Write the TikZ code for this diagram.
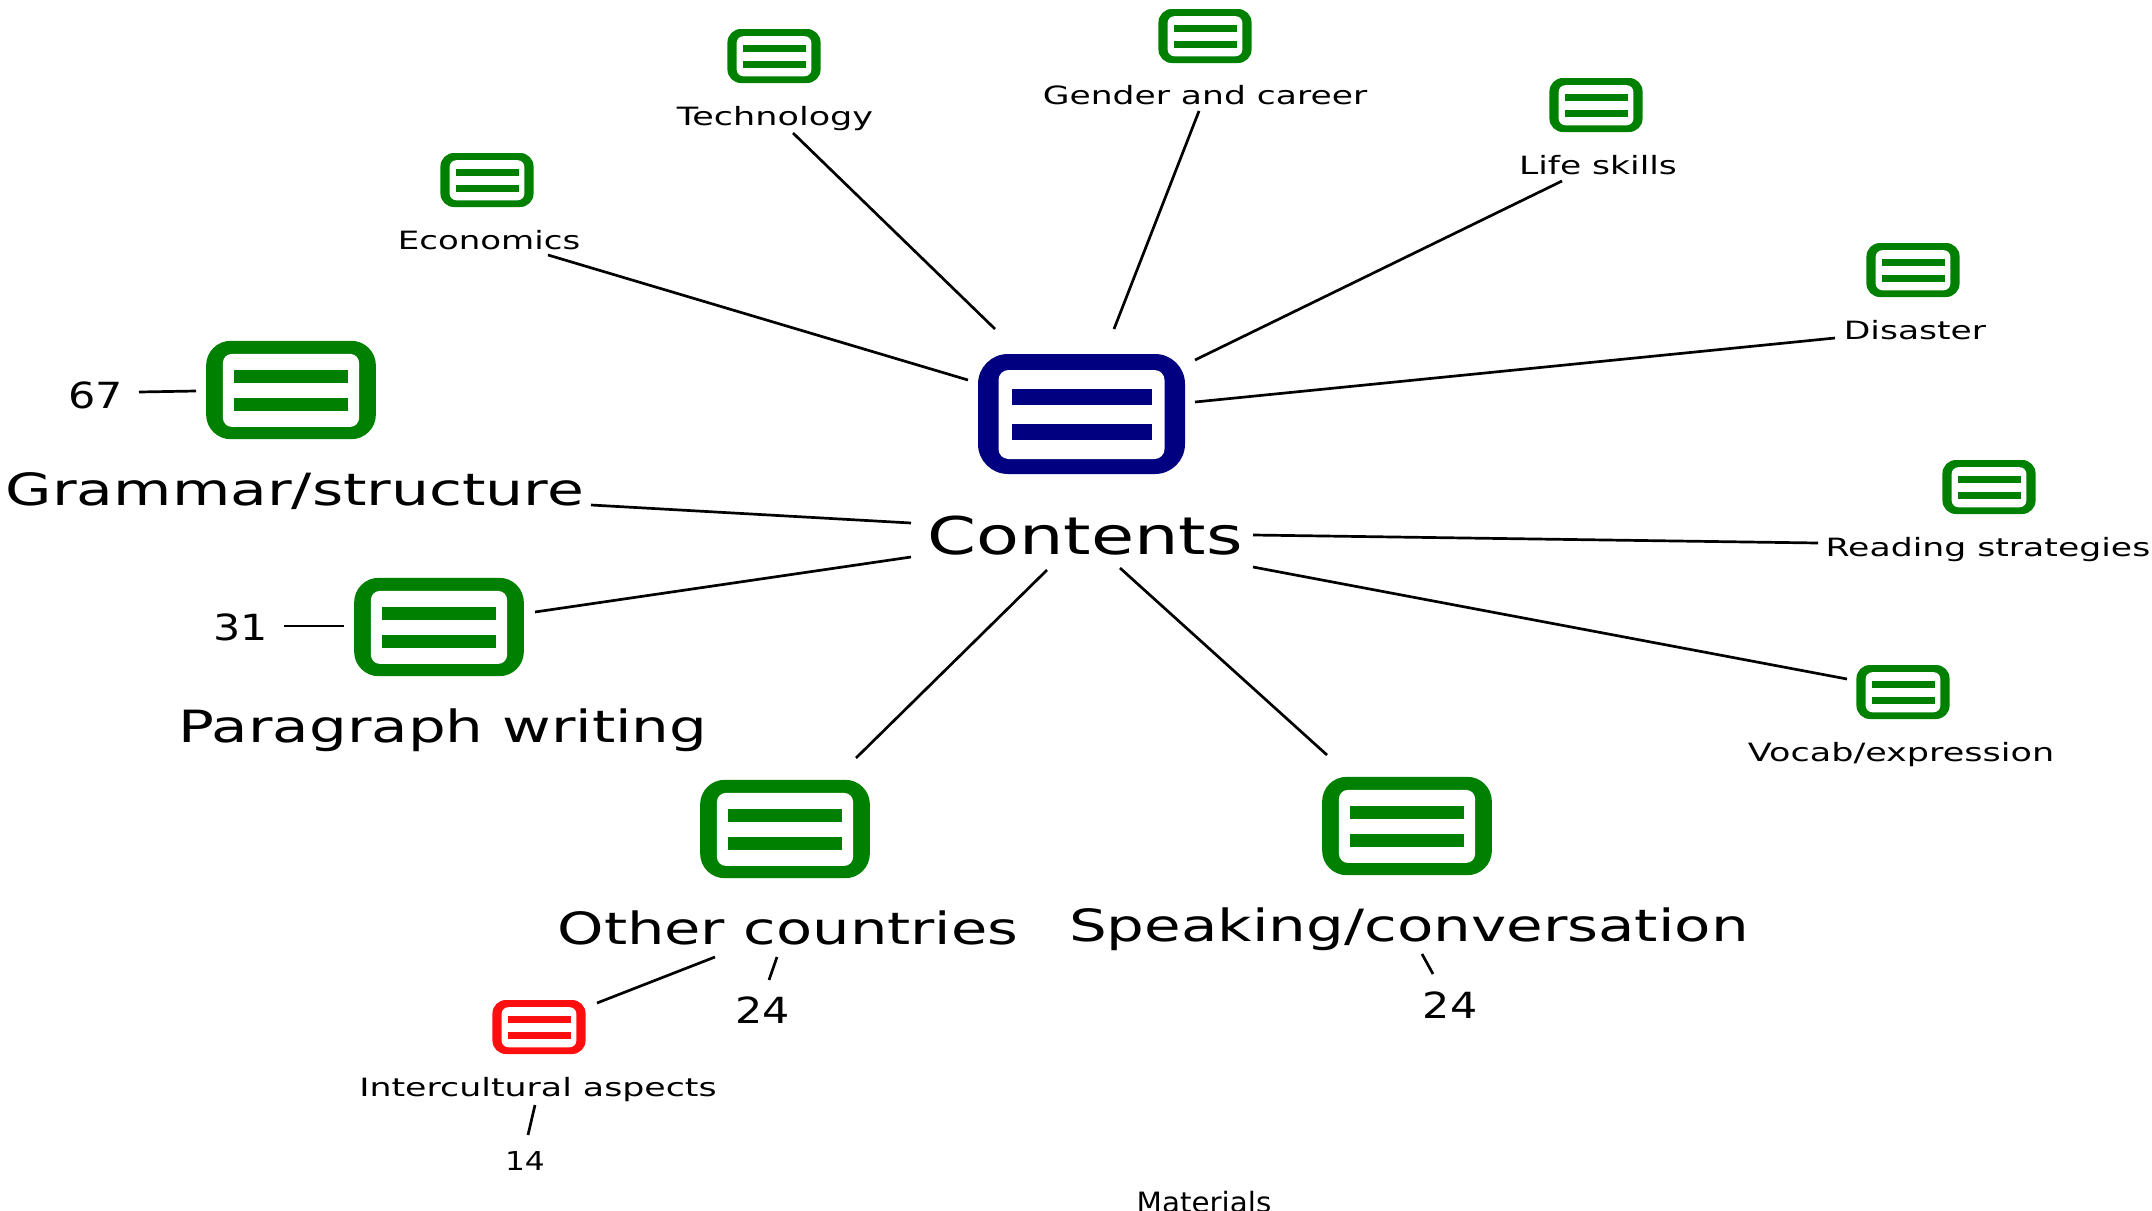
\documentclass[tikz,border=0pt]{standalone}
\usepackage{fontspec}
\setmainfont{DejaVu Sans}
\usetikzlibrary{calc}
\definecolor{navyc}{HTML}{000080}
\definecolor{greenc}{HTML}{008000}
\definecolor{redc}{HTML}{FE0F0F}
\tikzset{
  x=0.5pt,y=-0.5pt,
  link/.style={draw=black,line width=1.35pt},
  lab/.style={anchor=base,inner sep=0pt,outer sep=0pt,text=black},
  iconbody/.style={rectangle,inner sep=0pt,outer sep=0pt},
}
% [x stretch], size in pt, text
\newcommand\wide[3][1.34]{\scalebox{#1}[1]{\fontsize{#2}{#2}\selectfont #3}}
% name, x, y, scale, colour
\newcommand\iconat[5]{%
  \node[iconbody,fill=#5,minimum width=#4*103.5pt,minimum height=#4*60pt,rounded corners=#4*15pt] (#1) at (#2,#3) {};
  \begin{scope}[shift={(#2,#3)},scale=#4]
    \fill[white,rounded corners=#4*3pt+2pt] (-83,-44) rectangle (83,45);
    \fill[#5] (-70,-25) rectangle (70,-9);
    \fill[#5] (-70,10) rectangle (70,26);
  \end{scope}}
% from-point dx dy, to-point dx dy
\newcommand\linkup[6]{\draw[link] ($(#1)+(#2,#3)$) -- ($(#4)+(#5,#6)$);}
\begin{document}
\begin{tikzpicture}
\useasboundingbox (0,0) rectangle (2152,1210);
% icons
\iconat{iCont}{1081.5}{414}{1}{navyc}
\iconat{iEco}{487}{180}{0.45}{greenc}
\iconat{iTech}{774}{56}{0.45}{greenc}
\iconat{iGen}{1205}{36}{0.45}{greenc}
\iconat{iLife}{1596}{105}{0.45}{greenc}
\iconat{iDis}{1913}{270}{0.45}{greenc}
\iconat{iRead}{1989}{487}{0.45}{greenc}
\iconat{iVoc}{1903}{692}{0.45}{greenc}
\iconat{iInt}{539}{1027}{0.45}{redc}
\iconat{iGram}{291}{390}{0.82}{greenc}
\iconat{iPara}{439}{627}{0.82}{greenc}
\iconat{iOth}{785}{829}{0.82}{greenc}
\iconat{iSpe}{1407}{826}{0.82}{greenc}
% labels
\node[lab] (tCont) at (1085,554) {\wide[1.35]{26}{Contents}};
\node[lab] (tEco) at (489,249) {\wide[1.35]{12.6}{Economics}};
\node[lab] (tTech) at (775,125) {\wide[1.39]{12.6}{Technology}};
\node[lab] (tGen) at (1205,104) {\wide[1.37]{12.6}{Gender and career}};
\node[lab] (tLife) at (1598,174) {\wide[1.37]{12.6}{Life skills}};
\node[lab] (tDis) at (1915,339) {\wide[1.37]{12.6}{Disaster}};
\node[lab] (tRead) at (1988,556) {\wide[1.375]{12.6}{Reading strategies}};
\node[lab] (tVoc) at (1901,761) {\wide[1.39]{12.6}{Vocab/expression}};
\node[lab] (tInt) at (538,1096) {\wide[1.38]{12.6}{Intercultural aspects}};
\node[lab] (tFour) at (525,1170) {\wide[1.2]{13}{14}};
\node[lab] (tMat) at (1204,1212) {\wide[1.05]{14}{Materials}};
\node[lab] (tGram) at (295,505) {\wide[1.35]{22.2}{Grammar/structure}};
\node[lab] (tPara) at (443,742) {\wide{22.2}{Paragraph writing}};
\node[lab] (tOth) at (788,944) {\wide[1.33]{22.2}{Other countries}};
\node[lab] (tSpe) at (1409,941) {\wide{22.2}{Speaking/conversation}};
\node[lab] (nSix) at (96,408) {\wide[1.19]{18}{67}};
\node[lab] (nThr) at (241,640) {\wide[1.19]{18}{31}};
\node[lab] (nOth) at (763,1023) {\wide[1.19]{18}{24}};
\node[lab] (nSpe) at (1450,1018) {\wide[1.19]{18}{24}};
% connectors (offsets from each node's centre or baseline point)
\linkup{tEco.base}{59}{6}{iCont}{-113.5}{-34}
\linkup{tTech.base}{18}{8}{iCont}{-86.5}{-85}
\linkup{tGen.base}{-6}{7}{iCont}{32.5}{-85}
\linkup{tLife.base}{-36}{7}{iCont}{113.5}{-54}
\linkup{tDis.base}{-80}{-1}{iCont}{113.5}{-12}
\linkup{tRead.base}{-170}{-13}{tCont.base}{168}{-19}
\linkup{iVoc}{-56}{-13}{tCont.base}{168}{13}
\linkup{iSpe}{-80}{-71}{tCont.base}{35}{14}
\linkup{iOth}{71}{-71}{tCont.base}{-38}{16}
\linkup{iPara}{96}{-15}{tCont.base}{-174}{3}
\linkup{tGram.base}{296}{0}{tCont.base}{-174}{-31}
\linkup{nSix.base}{43}{-16}{iGram}{-95}{1}
\linkup{nThr.base}{43}{-14}{iPara}{-95}{-1}
\linkup{tOth.base}{-11}{13}{nOth.base}{6}{-43}
\linkup{tOth.base}{-73}{13}{iInt}{58}{-24}
\linkup{tInt.base}{-3}{9}{tFour.base}{3}{-35}
\linkup{tSpe.base}{13}{13}{nSpe.base}{-17}{-44}
\end{tikzpicture}
\end{document}
